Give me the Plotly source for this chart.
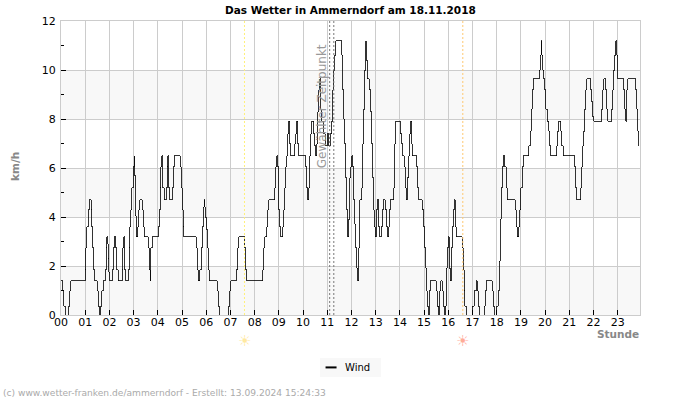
import plotly.graph_objects as go

hours = [0,.08,.12,.17,.33,.37,.41,1.0,1.03,1.07,1.12,1.16,1.24,1.28,1.32,1.36,1.40,1.49,1.53,1.57,1.65,1.69,1.74,1.82,1.86,1.90,1.93,1.96,1.98,2.02,2.11,2.15,2.19,2.27,2.31,2.36,2.52,2.56,2.60,2.63,2.67,2.77,2.81,2.85,2.89,2.93,2.98,3.02,3.03,3.06,3.10,3.18,3.22,3.26,3.35,3.39,3.43,3.60,3.64,3.68,3.71,3.76,4.01,4.05,4.09,4.13,4.17,4.21,4.26,4.34,4.38,4.42,4.46,4.50,4.59,4.63,4.67,4.92,4.96,5.0,5.04,5.08,5.58,5.62,5.66,5.74,5.79,5.83,5.87,5.91,5.94,5.96,6.0,6.05,6.09,6.13,6.45,6.49,6.53,6.94,6.98,7.02,7.25,7.30,7.34,
7.59,7.63,7.67,8.34,8.38,8.42,8.50,8.54,8.58,8.83,8.87,8.91,8.96,9.0,9.04,9.08,9.16,9.20,9.25,9.29,9.33,9.37,9.41,9.45,9.49,9.66,9.70,9.74,9.78,9.82,10.11,10.15,10.20,10.24,10.28,10.32,10.36,10.44,10.48,10.53,10.57,10.61,10.65,10.69,10.73,10.77,10.86,10.92,11.0,11.06,11.13,11.19,11.23,11.27,11.31,11.35,11.60,11.64,11.68,11.72,11.77,11.81,11.85,11.89,11.93,11.97,12.01,12.06,12.10,12.14,12.18,12.22,12.26,12.30,12.34,12.43,12.47,12.51,12.55,12.59,12.62,12.66,12.74,12.79,12.83,12.87,12.91,12.95,12.99,13.03,13.07,13.12,13.16,13.24,13.28,13.32,13.40,13.45,13.49,13.53,13.57,13.61,13.74,13.78,13.82,14.02,14.07,14.11,14.19,14.23,14.27,14.31,14.36,14.40,14.44,14.48,14.52,14.69,14.73,14.77,14.93,14.98,15.02,15.06,15.10,15.14,15.18,15.22,15.26,15.51,15.55,15.60,15.64,15.68,15.76,15.80,15.84,
15.87,15.91,15.95,15.99,16.03,16.08,16.12,16.16,16.2,16.24,16.28,16.32,16.57,16.61,16.65,16.69,16.74,16.78,16.98,17.07,17.15,17.19,17.23,17.27,17.48,17.52,17.56,17.81,17.85,17.89,18.01,18.06,18.10,18.14,18.18,18.22,18.26,18.34,18.39,18.43,18.76,18.80,18.84,18.92,18.96,19.0,19.05,19.09,19.33,19.38,19.42,19.46,19.5,19.75,19.79,19.83,19.87,19.91,19.95,19.99,20.03,20.08,20.16,20.2,20.24,20.49,20.53,20.57,20.65,20.69,20.74,21.23,21.27,21.31,21.48,21.52,21.56,21.6,21.64,21.68,21.73,21.89,21.93,21.97,22.01,22.34,22.39,22.43,22.51,22.55,22.59,22.76,22.8,22.84,22.88,22.92,22.96,23.0,23.25,23.29,23.33,23.38,23.42,23.75,23.79,23.83,23.87]

wind_kmh = [1.4,1.0,.35,0,.35,1.0,1.4,1.85,2.75,3.6,4.3,4.7,4.3,3.6,2.75,1.85,1.4,1.0,.35,0,.35,1.0,1.4,1.85,2.75,3.2,2.9,2.3,1.75,1.4,1.85,2.75,3.2,2.75,1.85,1.4,1.85,2.75,3.2,1.85,1.4,1.85,2.75,3.6,4.3,5.2,6.05,6.5,5.7,4.05,3.2,3.6,4.3,4.7,4.3,3.6,3.2,2.75,1.85,1.4,2.75,3.2,3.6,4.3,5.2,6.05,6.5,5.2,4.7,5.2,6.05,6.5,5.2,4.7,5.2,6.05,6.5,6.05,5.2,4.3,3.6,3.2,2.75,1.85,1.4,1.85,2.75,3.6,4.4,4.7,4.4,4.0,3.5,2.75,1.85,1.4,1.0,.35,0,.35,1.0,1.4,1.85,2.75,3.2,
2.75,1.85,1.4,1.85,2.75,3.2,3.6,4.3,4.7,5.2,6.05,6.5,6.05,4.3,3.6,3.2,3.6,4.3,5.2,6.05,6.5,7.4,7.9,7.0,6.5,7.0,7.4,7.9,7.0,6.5,6.05,5.2,4.7,5.2,6.5,7.4,7.9,7.4,6.9,6.5,7.0,8.3,9.2,9.65,8.4,7.9,7.4,6.9,7.4,6.9,7.4,7.9,9.2,10.0,10.6,11.2,10.6,9.2,8.0,7.0,5.6,4.3,3.2,3.9,5.6,6.05,6.5,6.05,4.7,3.7,2.75,1.9,1.4,2.75,4.7,5.2,7.0,8.4,10.0,11.2,10.4,9.65,9.2,8.3,7.0,5.6,4.3,3.6,3.2,4.3,4.7,3.6,3.2,3.6,4.3,4.7,4.3,3.6,3.2,3.6,4.3,4.7,5.2,7.0,7.9,7.4,7.0,6.5,6.05,5.2,4.7,5.6,6.5,7.4,7.9,7.0,6.5,6.05,5.2,4.7,4.3,3.6,2.75,1.9,1.0,.35,0,1.0,1.4,1.0,.35,0,1.0,1.4,1.0,.35,0,
.35,1.9,2.75,3.2,1.9,1.4,2.75,3.6,4.3,4.7,3.6,3.2,2.75,1.85,1.0,.35,0,0,.35,1.0,1.4,1.0,.35,0,.35,1.0,1.4,1.0,.35,0,.35,1.0,2.2,3.9,5.2,6.05,6.5,6.05,5.2,4.7,4.3,3.6,3.2,3.6,4.3,5.2,6.05,6.5,6.9,7.5,8.4,9.2,9.65,10.0,10.6,11.2,10.6,10.0,9.65,9.2,8.4,7.9,7.5,6.9,6.5,6.9,7.5,7.9,7.5,6.9,6.5,6.05,5.2,4.7,5.2,6.05,6.9,7.5,8.4,9.2,9.65,9.2,8.7,8.1,7.9,8.4,9.2,9.65,9.2,8.4,7.9,8.4,9.2,10.0,10.6,11.2,10.6,9.65,9.2,8.4,7.9,9.2,9.65,9.2,8.4,7.5,6.9]

n = min(len(hours), len(wind_kmh))
hours, wind_kmh = hours[:n], wind_kmh[:n]

hour_ticks = list(range(24))
hour_labels = [f"{h:02d}" for h in hour_ticks]
y_major = list(range(0, 13, 2))
y_minor = list(range(1, 12, 2))
bands = [(0, 2), (4, 6), (8, 10)]
sunrise = 7.58
sunset = 16.6
selected_time = [11.1, 11.27]

GRID = "#cccccc"
FONT = "DejaVu Sans"

fig = go.Figure()
fig.add_trace(go.Scatter(x=hours, y=wind_kmh, mode="lines", name="Wind", showlegend=False,
                         line=dict(color="black", width=0.8, shape="hv")))

shapes = []
for lo, hi in bands:
    shapes.append(dict(type="rect", xref="paper", x0=0, x1=1, yref="y", y0=lo, y1=hi,
                       fillcolor="#f8f8f8", line_width=0, layer="below"))
for t in selected_time:
    shapes.append(dict(type="line", xref="x", x0=t, x1=t, yref="paper", y0=0, y1=1,
                       line=dict(color="#777777", width=1, dash="2px,2px"), layer="above"))
shapes.append(dict(type="line", xref="x", x0=sunrise, x1=sunrise, yref="paper", y0=0, y1=1,
                   line=dict(color="#fff07a", width=1, dash="2px,2px"), layer="above"))
shapes.append(dict(type="line", xref="x", x0=sunset, x1=sunset, yref="paper", y0=0, y1=1,
                   line=dict(color="#ffc870", width=1, dash="2px,2px"), layer="above"))
# legend box with its short key line
shapes.append(dict(type="rect", xref="paper", yref="paper", x0=0.4474, x1=0.5526, y0=-0.2105, y1=-0.146,
                   fillcolor="#f8f8f8", line_width=0))
shapes.append(dict(type="line", xref="paper", yref="paper", x0=0.4569, x1=0.4759, y0=-0.1783, y1=-0.1783,
                   line=dict(color="black", width=2)))

annotations = [
    dict(text="<b>Das Wetter in Ammerndorf am 18.11.2018</b>", xref="paper", yref="paper", x=0.5, y=1.0, yshift=3,
         xanchor="center", yanchor="bottom", showarrow=False, font=dict(family=FONT, size=10.5, color="black")),
    dict(text="<b>km/h</b>", xref="paper", yref="paper", x=0, xshift=-46, y=0.5, yshift=1, textangle=-90,
         xanchor="center", yanchor="middle", showarrow=False, font=dict(family=FONT, size=10.5, color="#888888")),
    dict(text="<b>Stunde</b>", xref="paper", yref="paper", x=1, xshift=1, y=0, yshift=-27, xanchor="right", yanchor="bottom",
         showarrow=False, font=dict(family=FONT, size=10.5, color="#888888")),
    dict(text="Gewählter Zeitpunkt", xref="x", x=10.78, yref="paper", y=0.71, textangle=-90,
         xanchor="center", yanchor="middle", showarrow=False, font=dict(family=FONT, size=12, color="#999999")),
    dict(text="<b>☀</b>", xref="x", x=sunrise, yref="paper", y=0, yshift=-26, xanchor="center", yanchor="middle",
         showarrow=False, font=dict(family=FONT, size=15, color="#ffe9a0")),
    dict(text="<b>☀</b>", xref="x", x=sunset, yref="paper", y=0, yshift=-26, xanchor="center", yanchor="middle",
         showarrow=False, font=dict(family=FONT, size=15, color="#ffab98")),
    dict(text="Wind", xref="paper", yref="paper", x=0.487, y=-0.1783, xanchor="left", yanchor="middle",
         showarrow=False, font=dict(family=FONT, size=10, color="black")),
    dict(text="(c) www.wetter-franken.de/ammerndorf - Erstellt: 13.09.2024 15:24:33", xref="paper", yref="paper",
         x=0, xshift=-60, y=0, yshift=-85, xanchor="left", yanchor="bottom", showarrow=False,
         font=dict(family=FONT, size=9.1, color="#aaaaaa")),
]

fig.update_layout(
    width=700, height=400, margin=dict(l=60.5, r=59.5, t=20.5, b=85, pad=0, autoexpand=False),
    paper_bgcolor="white", plot_bgcolor="white",
    font=dict(family=FONT, size=11, color="black"),
    shapes=shapes, annotations=annotations, showlegend=False,
    xaxis=dict(range=[0, 23.92], tickvals=hour_ticks, ticktext=hour_labels, ticks="inside", ticklen=5,
               tickcolor="black", tickwidth=1, showgrid=True, gridcolor=GRID, gridwidth=1, showline=True,
               linecolor=GRID, linewidth=1, mirror=True, zeroline=False, layer="above traces",
               ticklabelstandoff=-3, tickfont=dict(family=FONT, size=11)),
    yaxis=dict(range=[0, 12], tickvals=y_major, ticks="inside", ticklen=5, tickcolor="black", tickwidth=1,
               showgrid=True, gridcolor=GRID, gridwidth=1, showline=True, linecolor=GRID, linewidth=1,
               mirror=True, zeroline=False, layer="above traces", ticklabelstandoff=2,
               tickfont=dict(family=FONT, size=11),
               minor=dict(tickvals=y_minor, ticks="inside", ticklen=3, tickcolor="black", tickwidth=1, showgrid=False)),
)
fig.write_html("out.html", config={"displayModeBar": False},
               post_script="document.body.style.margin='0';"
                           "document.querySelectorAll('.scatterlayer path').forEach(function(p){p.style.shapeRendering='crispEdges';});")
